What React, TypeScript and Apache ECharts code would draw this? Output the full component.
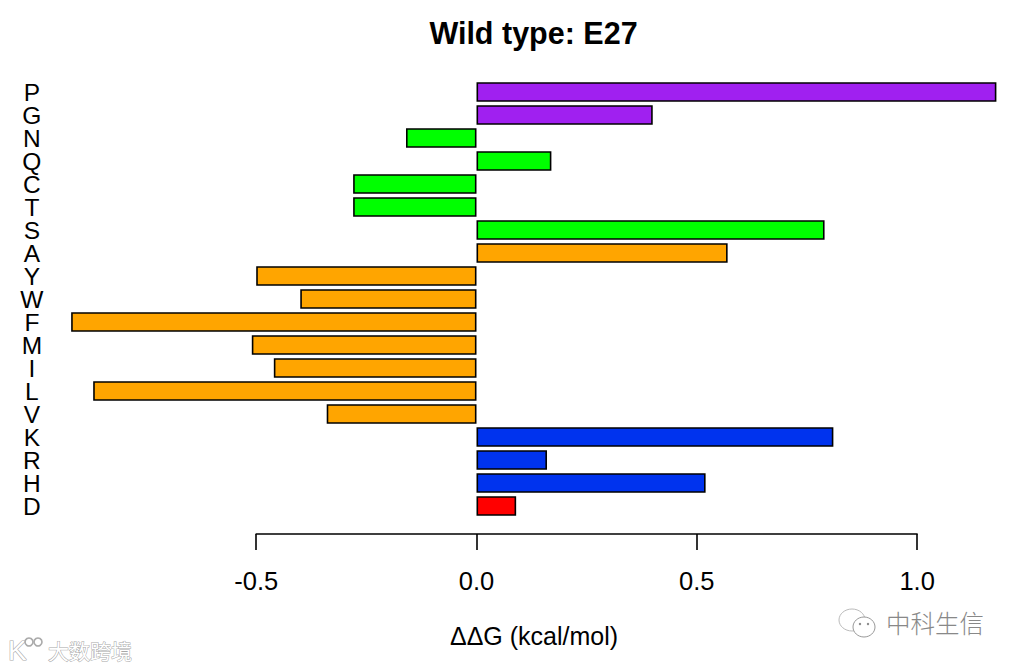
import React, { useEffect, useRef } from "react";
import * as echarts from "echarts";

const residues = ["P","G","N","Q","C","T","S","A","Y","W","F","M","I","L","V","K","R","H","D"];
const ddg = [1.18,0.40,-0.16,0.17,-0.28,-0.28,0.79,0.57,-0.50,-0.40,-0.92,-0.51,-0.46,-0.87,-0.34,0.81,0.16,0.52,0.09];
const barColors = [
  "#A020F0","#A020F0","#00FF00","#00FF00","#00FF00","#00FF00","#00FF00",
  "#FFA500","#FFA500","#FFA500","#FFA500","#FFA500","#FFA500","#FFA500","#FFA500",
  "#0033EE","#0033EE","#0033EE","#FF0000",
];
const FONT = '"Liberation Sans", Arial, sans-serif';
const CJK = '"Noto Sans CJK SC", sans-serif';
const X0 = 476.5;
const PPU = 440.6;

export default function App() {
  const ref = useRef<HTMLDivElement>(null);
  useEffect(() => {
    const chart = echarts.init(ref.current!, null, { renderer: "svg" });
    chart.setOption({
      animation: false,
      backgroundColor: "#ffffff",
      title: [
        { text: "Wild type: E27", left: 533.5, top: 17, padding: 0, textAlign: "center",
          textStyle: { fontFamily: FONT, fontWeight: "bold", fontSize: 30.5, color: "#000" } },
        { text: "ΔΔG (kcal/mol)", left: 534, top: 623, padding: 0, textAlign: "center",
          textStyle: { fontFamily: FONT, fontWeight: "normal", fontSize: 25, color: "#000" } },
      ],
      grid: [
        { left: X0 - PPU, width: PPU * 2.2, top: 80.5, height: 437 },
        { left: X0 - PPU * 0.5, width: PPU * 1.5, top: 533, height: 1 },
      ],
      xAxis: [
        { type: "value", gridIndex: 0, min: -1, max: 1.2, show: false },
        { type: "value", gridIndex: 1, min: -0.5, max: 1, interval: 0.5, position: "bottom",
          splitLine: { show: false },
          axisLine: { show: true, onZero: false, lineStyle: { color: "#000", width: 1.6 } },
          axisTick: { show: true, length: 16, lineStyle: { color: "#000", width: 1.6 } },
          axisLabel: { margin: 34, fontFamily: FONT, fontSize: 25.5, color: "#000",
            formatter: (v: number) => v.toFixed(1) } },
      ],
      yAxis: [
        { type: "category", gridIndex: 0, inverse: true, data: residues,
          axisLine: { show: false }, axisTick: { show: false }, splitLine: { show: false },
          axisLabel: { interval: 0, margin: 4, align: "center", fontFamily: FONT, fontSize: 24.5, lineHeight: 22, color: "#000" } },
        { type: "value", gridIndex: 1, show: false, min: 0, max: 1 },
      ],
      series: [
        { type: "bar", xAxisIndex: 0, yAxisIndex: 0, barWidth: 19.5,
          data: ddg.map((v, i) => ({
            value: v,
            itemStyle: { color: barColors[i], borderColor: "#000", borderWidth: 1.6 },
          })) },
        { type: "bar", xAxisIndex: 1, yAxisIndex: 1, data: [] },
      ],
      graphic: [
        // left watermark
        { type: "text", x: 8, y: 636, style: { text: "K", fontFamily: FONT, fontSize: 28, fill: "#fff", stroke: "#aaaaaa", lineWidth: 1.2 } },
        { type: "circle", shape: { cx: 29, cy: 642, r: 4 }, style: { fill: "none", stroke: "#aaaaaa", lineWidth: 1.6 } },
        { type: "circle", shape: { cx: 38, cy: 642, r: 4 }, style: { fill: "none", stroke: "#aaaaaa", lineWidth: 1.6 } },
        { type: "text", x: 48, y: 639, style: { text: "大数跨境", fontFamily: CJK, fontSize: 21, fill: "#ffffff", stroke: "#a8a8a8", lineWidth: 1 } },
        // right watermark
        { type: "ellipse", shape: { cx: 852, cy: 620, rx: 13, ry: 11 }, style: { fill: "#fff", stroke: "#bbb", lineWidth: 1 } },
        { type: "ellipse", shape: { cx: 864, cy: 627, rx: 11, ry: 10 }, style: { fill: "#fff", stroke: "#999", lineWidth: 1 } },
        { type: "circle", shape: { cx: 860, cy: 624, r: 1.2 }, style: { fill: "#888" } },
        { type: "circle", shape: { cx: 868, cy: 624, r: 1.2 }, style: { fill: "#888" } },
        { type: "text", x: 886, y: 610, style: { text: "中科生信", fontFamily: CJK, fontWeight: 300, fontSize: 24.5, fill: "#888" } },
      ],
    });
    return () => chart.dispose();
  }, []);
  return <div ref={ref} style={{ position: "absolute", left: 0, top: 0, width: 1017, height: 669 }} />;
}
